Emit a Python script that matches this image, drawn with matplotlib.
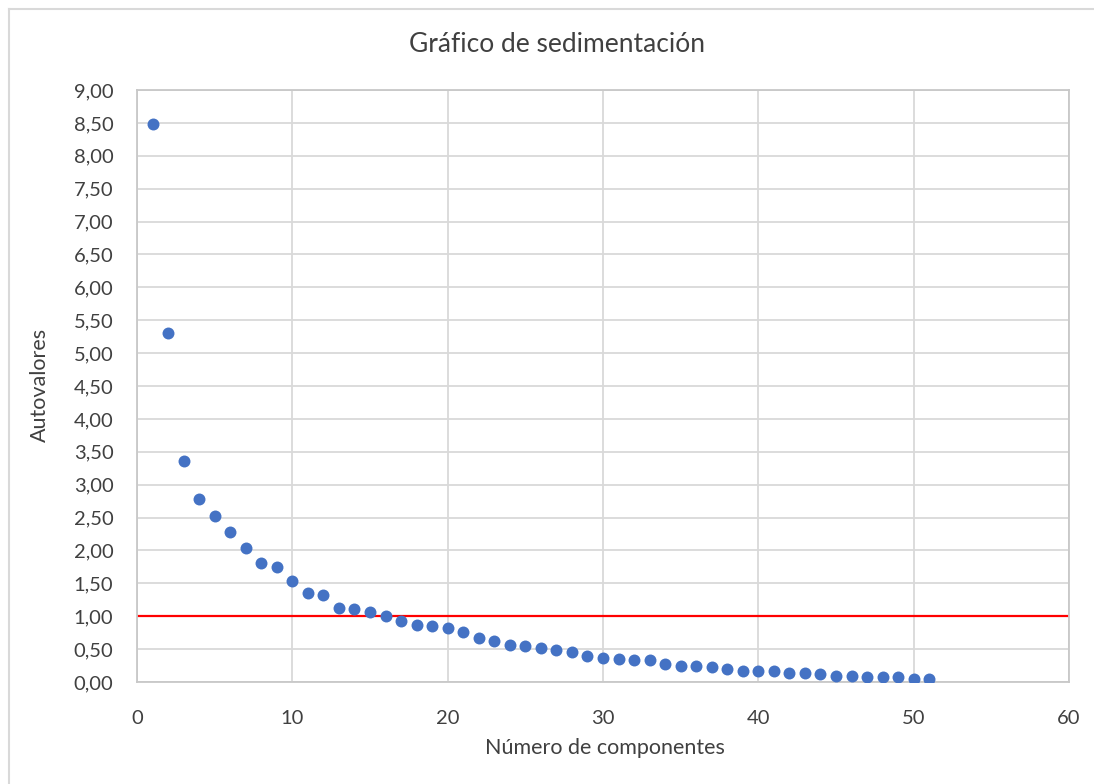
import matplotlib
matplotlib.use("Agg")
import matplotlib.pyplot as plt
from matplotlib.ticker import FuncFormatter, MultipleLocator
from matplotlib.lines import Line2D

components = list(range(1, 52))
eigenvalues = [8.48, 5.31, 3.36, 2.78, 2.53, 2.28, 2.03, 1.81, 1.75, 1.53,
               1.36, 1.33, 1.12, 1.11, 1.06, 1.00, 0.93, 0.87, 0.85, 0.82,
               0.76, 0.675, 0.625, 0.57, 0.55, 0.52, 0.48, 0.45, 0.39, 0.37,
               0.35, 0.33, 0.33, 0.27, 0.24, 0.24, 0.23, 0.20, 0.17, 0.17,
               0.17, 0.14, 0.14, 0.12, 0.09, 0.09, 0.07, 0.07, 0.07, 0.05,
               0.05]
threshold = 1.0
title = "Gráfico de sedimentación"
xlabel = "Número de componentes"
ylabel = "Autovalores"

plt.rcParams['font.family'] = ['Lato', 'DejaVu Sans']
W, H = 1094, 784
fig = plt.figure(figsize=(W / 100, H / 100), dpi=100)
ax = fig.add_axes([137 / W, (H - 682) / H, 932 / W, 592 / H])

txt = '#404040'
grid = '#D9D9D9'

ax.scatter(components, eigenvalues, s=(8.6) ** 2, color='#4472C4', zorder=3,
           linewidths=0)
ax.plot([0, 60], [threshold, threshold], color='#FF0000', lw=1.6, zorder=2)

ax.set_xlim(0, 60)
ax.set_ylim(0, 9)
ax.xaxis.set_major_locator(MultipleLocator(10))
ax.yaxis.set_major_locator(MultipleLocator(0.5))
ax.yaxis.set_major_formatter(FuncFormatter(lambda v, p: f"{v:.2f}".replace('.', ',')))
ax.grid(True, color=grid, lw=1.3, zorder=0)
ax.set_axisbelow(True)
for s in ax.spines.values():
    s.set_color('#C8C8C8')
    s.set_linewidth(1.3)
ax.tick_params(length=0, labelsize=14.5, colors=txt)
ax.tick_params(axis='y', pad=17)
ax.tick_params(axis='x', pad=20)

fig.text(557 / W, 1 - 45 / H, title, fontsize=19, color=txt, ha='center', va='center')
fig.text(605 / W, 1 - 748 / H, xlabel, fontsize=15.5, color=txt, ha='center', va='center')
fig.text(40 / W, 1 - 385 / H, ylabel, fontsize=15.5, color=txt, ha='center', va='center',
         rotation=90)

# chart outline (Excel chart area border)
fig.add_artist(Line2D([9 / W, 1], [1 - 9 / H, 1 - 9 / H], color='#D9D9D9', lw=1.5,
                      transform=fig.transFigure))
fig.add_artist(Line2D([9 / W, 9 / W], [0, 1 - 9 / H], color='#D9D9D9', lw=1.5,
                      transform=fig.transFigure))

fig.savefig("out.png", dpi=100, facecolor='white')
